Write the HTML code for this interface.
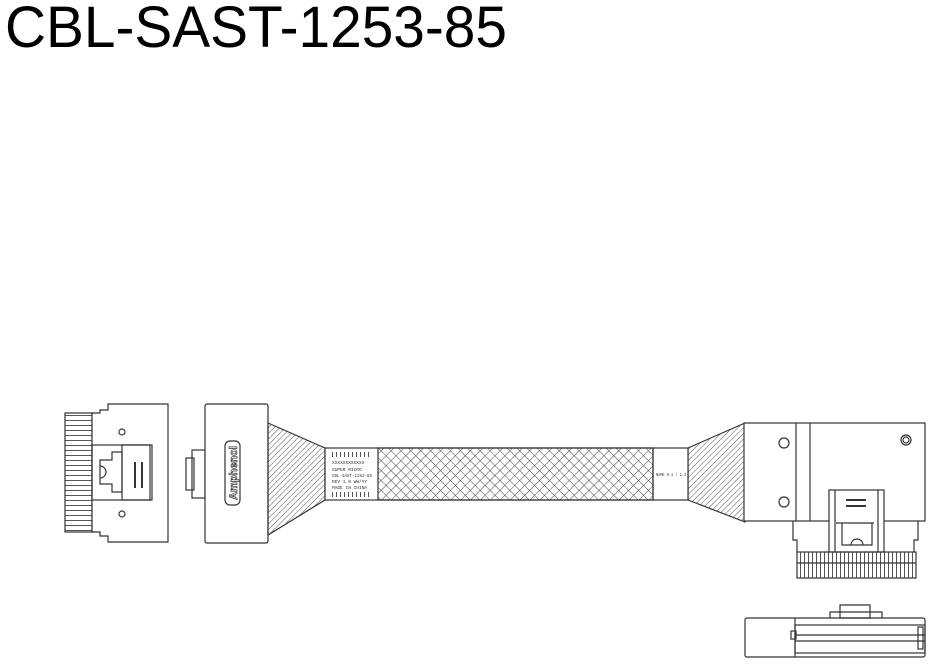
<!DOCTYPE html>
<html><head><meta charset="utf-8"><style>
html,body{margin:0;padding:0;background:#fff;width:928px;height:664px;overflow:hidden}
</style></head><body>
<svg width="928" height="664" viewBox="0 0 928 664" xmlns="http://www.w3.org/2000/svg">
<defs>
<pattern id="diag" width="4" height="4" patternUnits="userSpaceOnUse" patternTransform="rotate(45)">
<line x1="0" y1="0" x2="0" y2="4" stroke="#555" stroke-width="1"/></pattern>
<pattern id="cross" width="7" height="7" patternUnits="userSpaceOnUse" patternTransform="rotate(45)">
<line x1="0" y1="0" x2="0" y2="7" stroke="#444" stroke-width="1"/>
<line x1="0" y1="0" x2="7" y2="0" stroke="#444" stroke-width="1"/></pattern>
<pattern id="comb" width="3" height="5" patternUnits="userSpaceOnUse">
<line x1="0" y1="0.5" x2="3" y2="0.5" stroke="#555" stroke-width="1"/></pattern>
<pattern id="combv" width="4" height="4" patternUnits="userSpaceOnUse">
<line x1="0.5" y1="0" x2="0.5" y2="4" stroke="#555" stroke-width="1"/></pattern>
</defs>
<text x="5" y="47" font-family="Liberation Sans, sans-serif" font-size="58" textLength="502" lengthAdjust="spacingAndGlyphs">CBL-SAST-1253-85</text>

<g fill="none" stroke="#333" stroke-width="1.2">
<!-- left connector -->
<rect x="65" y="413" width="27" height="119" fill="url(#comb)"/>
<path d="M92 413 H100 V410 H108 V404 H168 V542 H108 V536 H100 V532 H92 Z" fill="#fff"/>
<circle cx="122" cy="432" r="3"/><circle cx="122" cy="514" r="3"/>
<rect x="92" y="445" width="60" height="55"/>
<path d="M100 460 H112 V452 H122 V492 H112 V484 H100 Z"/>
<rect x="122" y="445" width="28" height="55"/>
<line x1="135" y1="462" x2="135" y2="488" stroke-width="2"/>
<line x1="142" y1="462" x2="142" y2="488" stroke-width="2"/>
<path d="M100 466 A6 6 0 0 1 100 478"/>

<!-- middle plug -->
<rect x="186" y="458" width="8" height="32"/>
<rect x="192" y="450" width="13" height="48"/>
<rect x="205" y="404" width="63" height="139" rx="2" fill="#fff"/>
<rect x="225" y="441" width="15" height="64" rx="5"/>
<text transform="translate(237 473) rotate(-90)" text-anchor="middle" font-family="Liberation Sans, sans-serif" font-size="11" font-weight="bold" fill="#fff" stroke="#333" stroke-width="0.7">Amphenol</text>

<!-- fans -->
<path d="M268 423 L325 448 V500 L268 535 Z" fill="url(#diag)"/>
<path d="M688 448 L745 423 V522 L688 500 Z" fill="url(#diag)"/>
<!-- cable -->
<rect x="325" y="448" width="363" height="52" fill="#fff"/>
<rect x="378" y="448" width="275" height="52" fill="url(#cross)"/>
<line x1="653" y1="448" x2="653" y2="500"/>
<rect x="331" y="452" width="40" height="5" fill="url(#combv)" stroke="none"/>
<rect x="331" y="492" width="40" height="5" fill="url(#combv)" stroke="none"/>
</g>
<g font-family="Liberation Mono, monospace" font-size="4.5" fill="#333">
<text x="332" y="464">XXXXXXXXXXXX</text>
<text x="332" y="471">SUPER MICRO</text>
<text x="332" y="477" textLength="40" lengthAdjust="spacingAndGlyphs">CBL-SAST-1253-85</text>
<text x="332" y="483">REV 1.0  WW/YY</text>
<text x="332" y="489">MADE IN CHINA</text>
<text x="656" y="476" textLength="30" lengthAdjust="spacingAndGlyphs">NAME 0.1 / 2.3</text>
</g>
<g fill="none" stroke="#333" stroke-width="1.2">
<!-- right connector -->
<rect x="744" y="423" width="181" height="98" fill="#fff"/>
<line x1="796" y1="423" x2="796" y2="521"/><line x1="810" y1="423" x2="810" y2="521"/>
<circle cx="784" cy="443" r="5"/><circle cx="784" cy="502" r="5"/>
<circle cx="906" cy="440" r="5"/><circle cx="906" cy="440" r="3"/>
<path d="M793 521 V540 H797 V552"/><path d="M918 521 V540 H914 V552"/>
<rect x="829" y="490" width="55" height="62" fill="#fff"/>
<line x1="835" y1="490" x2="835" y2="552"/><line x1="878" y1="490" x2="878" y2="552"/>
<line x1="846" y1="500" x2="866" y2="500" stroke-width="2"/>
<line x1="846" y1="506" x2="866" y2="506" stroke-width="2"/>
<path d="M836 523 H874 M842 523 V545 H872 V523"/>
<path d="M851 545 A6 6 0 0 1 863 545"/>
<rect x="797" y="552" width="119" height="26" fill="url(#combv)"/>
<line x1="797" y1="563" x2="916" y2="563"/>

<!-- bottom view -->
<rect x="745" y="618" width="180" height="39" rx="2" fill="#fff"/>
<line x1="795" y1="618" x2="795" y2="657"/>
<rect x="795" y="625" width="130" height="28"/>
<line x1="795" y1="635" x2="925" y2="635"/><line x1="795" y1="641" x2="925" y2="641"/>
<rect x="791" y="631" width="5" height="8"/><rect x="918" y="627" width="5" height="22"/>
<path d="M830 618 V612 H840 V605 H870 V612 H882 V618"/>
<path d="M840 612 H870 V618 H840 Z"/>
</g>
</svg>
</body></html>
